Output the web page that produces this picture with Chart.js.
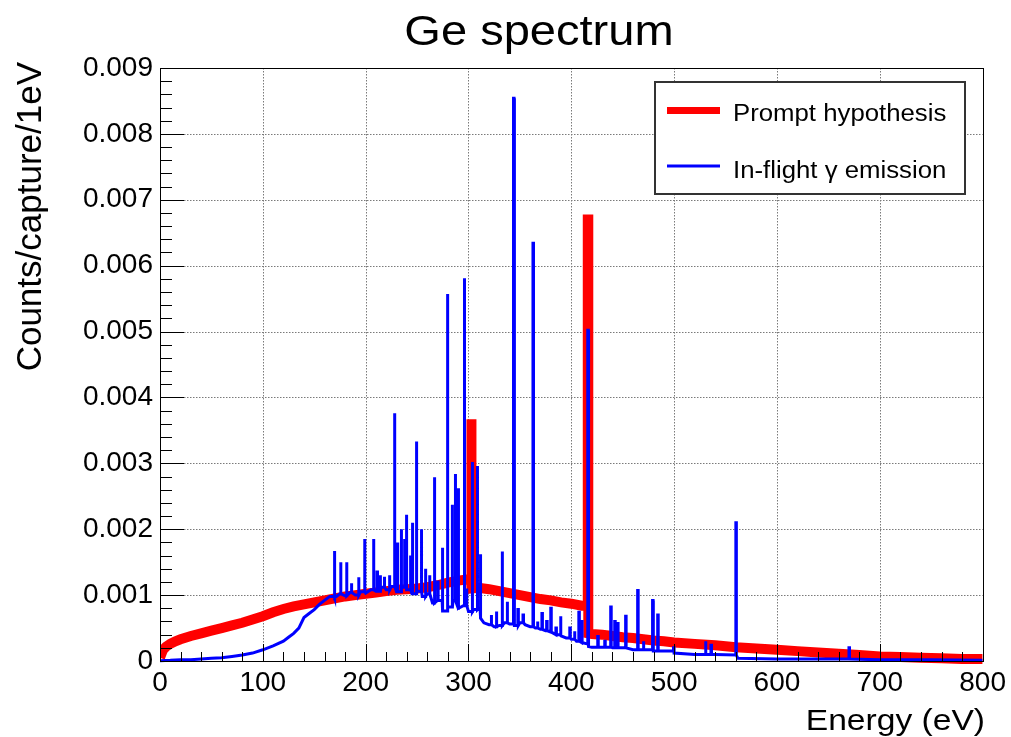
<!DOCTYPE html>
<html>
<head>
<meta charset="utf-8">
<title>Ge spectrum</title>
<script src="https://cdn.jsdelivr.net/npm/chart.js@4.4.1/dist/chart.umd.min.js"></script>
<style>
  html, body { margin: 0; padding: 0; background: #fff; }
  #wrap { width: 1011px; height: 737px; }
</style>
</head>
<body>
<div id="wrap"><canvas id="myChart" width="1011" height="737"></canvas></div>
<script>
// Prompt hypothesis: continuum level at each energy (eV), plus the two lines
var promptE = [0, 3, 6, 10, 15, 20, 30, 40, 50, 60, 70, 80, 90, 100, 110, 120, 130, 140, 150,
  160, 170, 180, 190, 200, 210, 220, 230, 240, 250, 260, 270, 280, 290, 300, 303, 310, 320,
  330, 340, 350, 360, 370, 380, 390, 400, 410, 416.5, 420, 430, 440, 450, 460, 470, 480, 490,
  500, 520, 540, 560, 580, 600, 620, 640, 660, 680, 700, 720, 740, 760, 780, 800];
var promptY = [0.00005, 0.00017, 0.00022, 0.00026, 0.0003, 0.00033, 0.00038, 0.00042, 0.00046,
  0.0005, 0.00054, 0.00058, 0.00063, 0.00068, 0.00074, 0.00079, 0.00083, 0.00086, 0.00089,
  0.00092, 0.00095, 0.00098, 0.001, 0.00102, 0.00104, 0.00106, 0.00108, 0.00109, 0.0011,
  0.00112, 0.00115, 0.00119, 0.00122, 0.00124, 0.0011, 0.00111, 0.00109, 0.00106, 0.00103,
  0.001, 0.00097, 0.00094, 0.00092, 0.00089, 0.00087, 0.00084, 0.00042, 0.00041, 0.0004,
  0.00038, 0.00036, 0.00035, 0.00033, 0.00031, 0.0003, 0.00028, 0.00026, 0.00024, 0.00021,
  0.00019, 0.00017, 0.00015, 0.00013, 0.00011, 0.00009, 0.00007, 0.00006, 0.00005, 0.00004,
  0.00003, 0.00003];
var promptPeakE = [302.5, 416];
var promptPeakY = [0.00367, 0.0067];

// In-flight gamma emission: continuum level at each energy (eV), plus the sharp lines
var flightE = [0, 10, 20, 30, 40, 50, 60, 70, 80, 90, 100, 110, 120, 125, 130, 135, 140, 145,
  150, 155, 160, 165, 170, 175, 180, 185, 190, 195, 200, 205, 210, 215, 220, 225, 230, 235,
  240, 245, 250, 255, 260, 265, 270, 275, 280, 285, 290, 295, 300, 305, 310, 312, 315, 320,
  325, 330, 335, 340, 345, 350, 355, 360, 365, 370, 375, 380, 385, 390, 395, 400, 405, 410,
  415, 417, 420, 440, 460, 480, 500, 520, 540, 560, 562, 600, 650, 700, 750, 800];
var flightY = [0.000005, 0.00001, 0.00002, 0.00002, 0.00003, 0.00004, 0.00005, 0.00007,
  0.00009, 0.00012, 0.00017, 0.00023, 0.0003, 0.00036, 0.00042, 0.0005, 0.00066, 0.00072,
  0.00078, 0.00086, 0.00092, 0.00098, 0.00096, 0.00102, 0.00099, 0.00104, 0.001, 0.00105,
  0.00103, 0.00108, 0.00106, 0.00112, 0.00108, 0.00113, 0.00105, 0.00112, 0.00108, 0.00102,
  0.00106, 0.00098, 0.00102, 0.00088, 0.00092, 0.00076, 0.00082, 0.00092, 0.0008, 0.00084,
  0.00075, 0.00078, 0.0008, 0.00065, 0.00058, 0.00055, 0.00052, 0.00054, 0.00058, 0.00056,
  0.00054, 0.00058, 0.00055, 0.00052, 0.0005, 0.00048, 0.00046, 0.00044, 0.0004, 0.00038,
  0.00035, 0.00033, 0.0003, 0.00028, 0.00026, 0.00022, 0.00021, 0.0002, 0.00017, 0.00015,
  0.00012, 0.0001, 0.0001, 0.00009, 0.00004, 0.00003, 0.00003, 0.00002, 0.00002, 0.00001];
var flightPeakE = [169.4, 175.5, 181.3, 186, 193, 198.8, 207.5, 211, 214, 218, 223, 227.9,
  230.8, 234.4, 237.6, 239.4, 243.4, 245.3, 249.2, 254, 258, 262, 266.7, 270, 274.4, 279.3,
  284, 287, 290, 295.8, 298, 303.5, 308.4, 311.3, 322, 327, 332.6, 337.5, 343.8, 348, 353,
  362.7, 367, 371.4, 376, 380, 385, 389.4, 398.5, 403, 407.3, 410, 416, 425.7, 432.5, 438.3,
  442.2, 445, 452.8, 464.5, 470, 479, 484, 499.4, 530.4, 535.8, 560, 670];
var flightPeakY = [0.00167, 0.0015, 0.0015, 0.00118, 0.00127, 0.00185, 0.00185, 0.00135,
  0.0013, 0.00128, 0.0013, 0.00376, 0.0018, 0.002, 0.00185, 0.00222, 0.0016, 0.0021, 0.00333,
  0.002, 0.0014, 0.0013, 0.00279, 0.0012, 0.00172, 0.00557, 0.00237, 0.00284, 0.00262,
  0.00581, 0.0011, 0.00302, 0.00296, 0.00162, 0.0007, 0.00075, 0.00166, 0.0009, 0.00854,
  0.00078, 0.0007, 0.00634, 0.0006, 0.00072, 0.0006, 0.0008, 0.0005, 0.00068, 0.0005,
  0.00045, 0.00074, 0.0006, 0.00502, 0.00037, 0.0003, 0.00082, 0.0006, 0.00057, 0.00068,
  0.00107, 0.0003, 0.00092, 0.0007, 0.0002, 0.0003, 0.00024, 0.0021, 0.0002];

var xTitle = "Energy (eV)";
var yTitle = "Counts/capture/1eV";
var chartTitle = "Ge spectrum";
var seriesNames = ["Prompt hypothesis", "In-flight \u03b3 emission"];

var FONT = '"Liberation Sans", Arial, Helvetica, sans-serif';
var STRETCH = 1.12; // the original picture is a bit wider than tall
var PEAK_W = 0.5;   // width of a line in eV

// continuum points, with each narrow line put in as a thin box on top of
// the continuum level it sits on
function buildSeries(edges, values, peakE, peakY) {
  var points = [];
  var p = 0;
  for (var i = 0; i < edges.length; i++) {
    points.push({ x: edges[i], y: values[i] });
    var next = i + 1 < edges.length ? edges[i + 1] : Infinity;
    while (p < peakE.length && peakE[p] < next) {
      points.push({ x: peakE[p], y: values[i] });
      points.push({ x: peakE[p], y: peakY[p] });
      points.push({ x: peakE[p] + PEAK_W, y: peakY[p] });
      points.push({ x: peakE[p] + PEAK_W, y: values[i] });
      p++;
    }
  }
  return points;
}

function drawText(c, text, x, y, size, align) {
  c.save();
  c.font = size + "px " + FONT;
  c.fillStyle = "#000";
  c.textAlign = align;
  c.textBaseline = "alphabetic";
  c.translate(x, y);
  c.scale(STRETCH, 1);
  c.fillText(text, 0, 0);
  c.restore();
}

var rootFrame = {
  id: "rootFrame",
  beforeDatasetsDraw: function (chart) {
    var c = chart.ctx, a = chart.chartArea, xs = chart.scales.x, ys = chart.scales.y;
    c.save();
    c.strokeStyle = "#7a7a7a";
    c.lineWidth = 1;
    c.setLineDash([1.5, 1.5]);
    c.beginPath();
    xs.ticks.forEach(function (t) {
      if (t.value <= xs.min || t.value >= xs.max) return;
      var px = Math.round(xs.getPixelForValue(t.value)) + 0.5;
      c.moveTo(px, a.top);
      c.lineTo(px, a.bottom);
    });
    ys.ticks.forEach(function (t) {
      if (t.value <= ys.min || t.value >= ys.max) return;
      var py = Math.round(ys.getPixelForValue(t.value)) + 0.5;
      c.moveTo(a.left, py);
      c.lineTo(a.right, py);
    });
    c.stroke();
    c.restore();
  },
  afterDatasetsDraw: function (chart) {
    var c = chart.ctx, a = chart.chartArea, xs = chart.scales.x, ys = chart.scales.y;
    c.save();
    c.strokeStyle = "#000";
    c.lineWidth = 1;
    c.strokeRect(Math.round(a.left) + 0.5, Math.round(a.top) + 0.5,
      Math.round(a.right - a.left), Math.round(a.bottom - a.top));
    c.beginPath();
    // ticks point into the frame, 5 subdivisions per labelled step
    var k, v, px, py, len;
    for (k = 0; k <= 40; k++) {
      v = xs.min + k * (xs.max - xs.min) / 40;
      px = Math.round(xs.getPixelForValue(v)) + 0.5;
      len = k % 5 === 0 ? 17 : 9;
      c.moveTo(px, a.bottom);
      c.lineTo(px, a.bottom - len);
    }
    for (k = 0; k <= 45; k++) {
      v = ys.min + k * (ys.max - ys.min) / 45;
      py = Math.round(ys.getPixelForValue(v)) + 0.5;
      len = k % 5 === 0 ? 24 : 12;
      c.moveTo(a.left, py);
      c.lineTo(a.left + len, py);
    }
    c.stroke();
    c.restore();
  },
  afterDraw: function (chart) {
    var c = chart.ctx;
    drawText(c, chartTitle, 539, 45, 42, "center");
    drawText(c, xTitle, 985, 730, 30, "right");

    c.save();
    c.font = "35px " + FONT;
    c.fillStyle = "#000";
    c.textAlign = "right";
    c.textBaseline = "alphabetic";
    c.translate(41, 62);
    c.rotate(-Math.PI / 2);
    c.fillText(yTitle, 0, 0);
    c.restore();

    // legend box
    c.save();
    c.fillStyle = "#fff";
    c.fillRect(655, 82, 310, 112);
    c.strokeStyle = "#333";
    c.lineWidth = 2;
    c.strokeRect(655, 82, 310, 112);
    c.fillStyle = "#ff0000";
    c.fillRect(667, 107, 53, 7);
    c.fillStyle = "#0000ff";
    c.fillRect(667, 164.5, 53, 3);
    c.restore();
    drawText(c, seriesNames[0], 733, 121, 23, "left");
    drawText(c, seriesNames[1], 733, 178, 23, "left");
  }
};

var ctx = document.getElementById("myChart").getContext("2d");
var myChart = new Chart(ctx, {
  type: "line",
  data: {
    datasets: [
      {
        label: seriesNames[1],
        data: buildSeries(flightE, flightY, flightPeakE, flightPeakY),
        borderColor: "#0000ff",
        borderWidth: 3,
        pointRadius: 0,
        tension: 0,
        order: 0,
        clip: { left: 0, top: 0, right: 0, bottom: 2 },
      },
      {
        label: seriesNames[0],
        data: buildSeries(promptE, promptY, promptPeakE, promptPeakY),
        borderColor: "#ff0000",
        borderWidth: 10,
        pointRadius: 0,
        tension: 0,
        order: 1,
        clip: { left: 0, top: 0, right: 0, bottom: 4 },
      },
    ],
  },
  options: {
    responsive: false,
    animation: false,
    events: [],
    devicePixelRatio: 1,
    layout: { padding: { top: 68, right: 26, left: 0, bottom: 0 } },
    plugins: {
      legend: { display: false },
      title: { display: false },
      tooltip: { enabled: false },
    },
    scales: {
      x: {
        type: "linear",
        min: 0,
        max: 800,
        grid: { display: false, drawTicks: false },
        border: { display: false },
        ticks: {
          stepSize: 100,
          autoSkip: false,
          maxRotation: 0,
          padding: 5,
          color: "#000",
          font: { family: FONT, size: 28 },
        },
        afterFit: function (s) { s.height = 76; },
      },
      y: {
        type: "linear",
        min: 0,
        max: 0.009,
        grid: { display: false, drawTicks: false },
        border: { display: false },
        ticks: {
          stepSize: 0.001,
          padding: 7,
          color: "#000",
          font: { family: FONT, size: 28 },
          callback: function (v) { return v === 0 ? "0" : v.toFixed(3); },
        },
        afterFit: function (s) { s.width = 160; },
      },
    },
  },
  plugins: [rootFrame],
});
</script>
</body>
</html>
